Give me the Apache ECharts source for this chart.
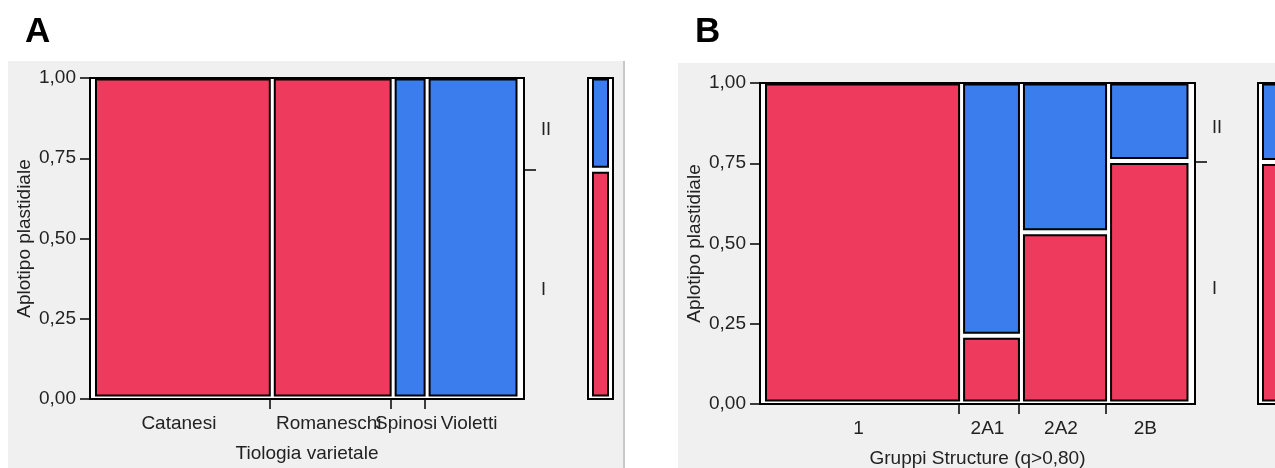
<!DOCTYPE html>
<html>
<head>
<meta charset="utf-8">
<title>Aplotipo plastidiale</title>
<script src="https://cdn.jsdelivr.net/npm/echarts@6/dist/echarts.min.js"></script>
<style>
  html, body { margin: 0; padding: 0; background: #fff; }
  #chart { width: 1275px; height: 468px; }
</style>
</head>
<body>
<div id="chart"></div>
<script>
// panel A: tipologia varietale
const catA = ['Catanesi', 'Romaneschi', 'Spinosi', 'Violetti'];
const countA = [12, 8, 2, 6];
const propIA = [1, 1, 0, 0];

// panel B: gruppi Structure
const catB = ['1', '2A1', '2A2', '2B'];
const shareB = [0.475, 0.135, 0.202, 0.188];
const propIB = [1, 0.213, 0.535, 0.757];

const yTicks = [0, 0.25, 0.5, 0.75, 1];
const levels = ['I', 'II'];
const levelColors = ['#EE3A5C', '#3B7DED'];

// gaps between the mosaic columns, in share units (406 px of bars)
const PAD_L = 6 / 406, GAP = 5 / 406, PAD_R = 7.5 / 406;
const FONT = 'Liberation Sans';
const TXT = '#222';

const chart = echarts.init(document.getElementById('chart'));

function makeRender(hInset) {
  return function (params, api) {
    const x0 = api.value(0), x1 = api.value(1), y0 = api.value(2), y1 = api.value(3);
    const a = api.coord([x0, y1]);
    const b = api.coord([x1, y0]);
    const top = a[1] + (y1 >= 1 ? 1.5 : 3);
    const bot = b[1] - (y0 <= 0 ? 3.5 : 3);
    return {
      type: 'rect',
      shape: { x: a[0] + hInset, y: top, width: b[0] - a[0] - 2 * hInset, height: bot - top },
      style: { fill: levelColors[api.value(4)], stroke: '#000', lineWidth: 2 }
    };
  };
}

const grids = [], xAxes = [], yAxes = [], series = [];

function panel(k, cats, weights, propI, main, marg, xName) {
  const total = weights.reduce((s, w) => s + w, 0);
  const share = weights.map(w => w / total);
  const n = cats.length;
  const cells = [], ends = [], mids = [];
  let cum = 0;
  share.forEach((s, i) => {
    const x0 = PAD_L + i * GAP + cum;
    const x1 = x0 + s;
    cum += s;
    if (propI[i] > 0) cells.push([x0, x1, 0, propI[i], 0]);
    if (propI[i] < 1) cells.push([x0, x1, propI[i], 1, 1]);
    ends.push(x1);
    mids.push((x0 + x1) / 2);
  });
  const xMax = PAD_L + (n - 1) * GAP + 1 + PAD_R;
  const overall = share.reduce((s, v, i) => s + v * propI[i], 0);

  const frame = { show: true, backgroundColor: '#fff', borderColor: '#000', borderWidth: 2, outerBoundsMode: 'none', containLabel: false };
  grids.push(Object.assign({}, main, frame), Object.assign({}, marg, frame));

  xAxes.push({
    gridIndex: 2 * k, type: 'value', min: 0, max: xMax,
    axisLine: { show: false },
    splitLine: { show: false },
    axisTick: { show: true, customValues: ends.slice(0, -1), length: 10, lineStyle: { color: '#000', width: 1.5 } },
    axisLabel: {
      customValues: mids, margin: 15, fontSize: 19, fontFamily: FONT, color: TXT,
      padding: [0, 8, 0, 0],
      formatter: v => { const j = mids.findIndex(m => Math.abs(m - v) < 1e-6); return j < 0 ? '' : cats[j]; }
    },
    name: xName, nameLocation: 'middle', nameGap: 45,
    nameTextStyle: { fontSize: 19, fontFamily: FONT, color: TXT }
  }, {
    gridIndex: 2 * k + 1, type: 'value', min: 0, max: 1, show: false
  });

  yAxes.push({
    gridIndex: 2 * k, type: 'value', min: 0, max: 1, interval: 0.25,
    axisLine: { show: true, lineStyle: { color: '#000', width: 2 } },
    axisTick: { show: true, length: 10, lineStyle: { color: '#000', width: 1.5 } },
    splitLine: { show: false },
    axisLabel: {
      margin: 14, fontSize: 19, fontFamily: FONT, color: TXT,
      formatter: v => yTicks.includes(v) ? v.toFixed(2).replace('.', ',') : ''
    },
    name: 'Aplotipo plastidiale', nameLocation: 'middle', nameGap: 56,
    nameTextStyle: { fontSize: 19, fontFamily: FONT, color: TXT }
  }, {
    gridIndex: 2 * k, type: 'value', min: 0, max: 1, position: 'right',
    axisLine: { show: false },
    splitLine: { show: false },
    axisTick: { show: true, customValues: [overall], length: 12, lineStyle: { color: '#000', width: 1.5 } },
    axisLabel: {
      customValues: [overall / 2, (1 + overall) / 2], margin: 17,
      fontSize: 18, fontFamily: FONT, color: TXT,
      verticalAlign: 'top', lineHeight: 12,
      formatter: v => v < overall ? levels[0] : levels[1]
    }
  }, {
    gridIndex: 2 * k + 1, type: 'value', min: 0, max: 1, show: false
  });

  series.push({
    type: 'custom', xAxisIndex: 2 * k, yAxisIndex: 3 * k,
    renderItem: makeRender(0), encode: { x: [0, 1], y: [2, 3] },
    data: cells, silent: true
  }, {
    type: 'custom', xAxisIndex: 2 * k + 1, yAxisIndex: 3 * k + 2,
    renderItem: makeRender(5), encode: { x: [0, 1], y: [2, 3] },
    data: [[0, 1, 0, overall, 0], [0, 1, overall, 1, 1]], silent: true
  });
}

panel(0, catA, countA, propIA,
  { left: 90, top: 78, width: 434, height: 321 },
  { left: 588, top: 78, width: 25, height: 321 },
  'Tiologia varietale');
panel(1, catB, shareB, propIB,
  { left: 760, top: 83, width: 435, height: 321 },
  { left: 1258, top: 83, width: 25, height: 321 },
  'Gruppi Structure (q>0,80)');

chart.setOption({
  animation: false,
  backgroundColor: '#fff',
  graphic: [
    { type: 'rect', z: -10, silent: true, shape: { x: 8, y: 61, width: 616, height: 407 }, style: { fill: '#F0F0F0' } },
    { type: 'rect', z: -10, silent: true, shape: { x: 623, y: 61, width: 2, height: 407 }, style: { fill: '#C8C8C8' } },
    { type: 'rect', z: -10, silent: true, shape: { x: 678, y: 63, width: 597, height: 405 }, style: { fill: '#F0F0F0' } },
    { type: 'text', left: 25, top: 15, style: { text: 'A', font: 'bold 35px "Liberation Sans"', fill: '#000' } },
    { type: 'text', left: 695, top: 15, style: { text: 'B', font: 'bold 35px "Liberation Sans"', fill: '#000' } }
  ],
  grid: grids,
  xAxis: xAxes,
  yAxis: yAxes,
  series: series
});
</script>
</body>
</html>
